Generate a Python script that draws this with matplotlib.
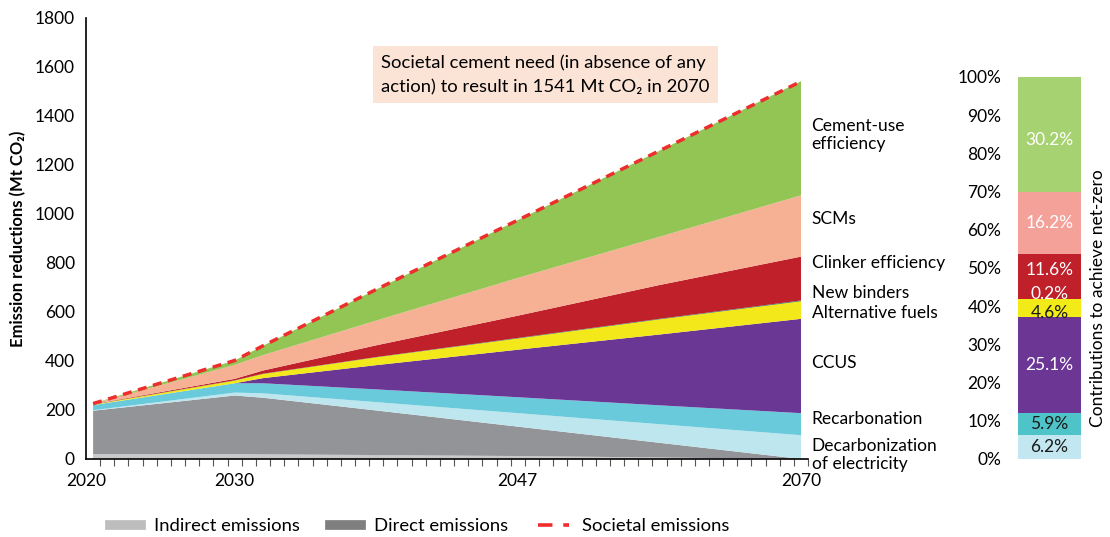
import numpy as np
import matplotlib.pyplot as plt
from matplotlib.lines import Line2D

plt.rcParams['font.family'] = ['Lato', 'DejaVu Sans']

# Emission reductions (Mt CO2), one value per year and layer
years = [2020, 2030, 2032, 2040, 2050, 2060, 2070]
indirect = [20, 20, 19, 16, 12, 6, 0]
direct = [177, 239, 231, 182, 120, 60, 0]
decarb_elec = [2, 12, 18, 34, 55, 76, 97]
recarbonation = [21, 38, 41, 52, 65, 77, 90]
ccus = [0, 0, 21, 99, 194, 289, 385]
alt_fuels = [2, 11, 17, 32, 46, 62, 72]
new_binders = [0.5, 1, 1, 1, 2, 2, 3]
clinker_eff = [1, 6, 13, 48, 91, 138, 179]
scms = [2, 57, 63, 101, 154, 197, 250]
cement_use = [1, 18, 38, 127, 236, 351, 466]
societal = [226, 402, 462, 692, 975, 1258, 1541]

# Contributions to net-zero (%), bottom to top
bar_labels = ['Decarbonization of electricity', 'Recarbonation', 'CCUS',
              'Alternative fuels', 'New binders', 'Clinker efficiency',
              'SCMs', 'Cement-use efficiency']
bar_values = [6.2, 5.9, 25.1, 4.6, 0.2, 11.6, 16.2, 30.2]

area_colors = ['#c9c9cb', '#929497', '#bee6ef', '#69cadc', '#6b3795',
               '#f2e81a', '#1b6f66', '#c0202a', '#f6b195', '#92c553']
bar_colors = ['#c3e7f0', '#4ec3c8', '#6b3694', '#f3eb17', '#156e62',
              '#c0202a', '#f4a19a', '#a7d271']
bar_text_colors = ['#1a1a1a', '#1a1a1a', 'white', '#1a1a1a', 'white',
                   'white', 'white', 'white']
bar_text_shift = [0, 0, 0, -1.2, 1.3, 1.7, 0, -1.4]

fs = 12.5
fig = plt.figure(figsize=(11.1, 5.37), dpi=100)
ax = fig.add_axes([0.0775, 0.1453, 0.6505, 0.8212])

ax.stackplot(years, indirect, direct, decarb_elec, recarbonation, ccus,
             alt_fuels, new_binders, clinker_eff, scms, cement_use,
             colors=area_colors, linewidth=0)
line, = ax.plot(years, societal, color='#ee2d2d', lw=2.5)
line.set_dashes((2.6, 1.9))

ax.set_xlim(2019.5, 2070.5)
ax.set_ylim(0, 1800)
ax.set_yticks(np.arange(0, 1801, 200))
ax.tick_params(axis='y', length=0, pad=8, labelsize=fs)
ax.set_xticks([2019.5, 2030, 2050, 2070])
ax.set_xticklabels(['2020', '2030', '2047', '2070'])
ax.set_xticks(np.arange(2019.5, 2071, 1), minor=True)
ax.tick_params(axis='x', which='major', length=0, pad=10, labelsize=fs)
ax.tick_params(axis='x', which='minor', length=5, width=0.8,
               color='#555555', direction='out')
for s in ['top', 'right']:
    ax.spines[s].set_visible(False)
for s in ['left', 'bottom']:
    ax.spines[s].set_linewidth(1.2)
ax.set_ylabel('Emission reductions (Mt CO\u2082)', fontsize=12,
              fontweight='bold', labelpad=6)

# Layer names on the right of the area chart
side_labels = [('Cement-use\nefficiency', 1323), ('SCMs', 981),
               ('Clinker efficiency', 801), ('New binders', 678),
               ('Alternative fuels', 597), ('CCUS', 392),
               ('Recarbonation', 163), ('Decarbonization\nof electricity', 16)]
for txt, yv in side_labels:
    ax.text(2070.75, yv, txt, fontsize=fs, va='center', ha='left',
            linespacing=1.15, clip_on=False)

ax.text(2040.35, 1568, 'Societal cement need (in absence of any\n'
        'action) to result in 1541 Mt CO\u2082 in 2070',
        fontsize=13.3, va='center', ha='left', linespacing=1.6,
        bbox=dict(facecolor='#fbe3d6', edgecolor='none', pad=6))

handles = [Line2D([], [], color='#bdbdbd', lw=7),
           Line2D([], [], color='#7f7f7f', lw=7),
           Line2D([], [], color='#ee2d2d', lw=2.6, dashes=(4, 3))]
fig.legend(handles, ['Indirect emissions', 'Direct emissions',
                     'Societal emissions'],
           loc='center', bbox_to_anchor=(0.378, 0.02), ncol=3,
           frameon=False, fontsize=13.3, handlelength=1.7,
           columnspacing=1.6, handletextpad=0.7)

# Stacked contribution bar
bx = fig.add_axes([0.9171, 0.1453, 0.0568, 0.7114])
bottom = 0
for val, col, tcol, dy in zip(bar_values, bar_colors, bar_text_colors,
                              bar_text_shift):
    bx.bar(0, val, bottom=bottom, width=1, color=col, linewidth=0)
    bx.text(0, bottom + val / 2 + dy, f'{val:.1f}%', ha='center',
            va='center', color=tcol, fontsize=fs)
    bottom += val
bx.set_xlim(-0.5, 0.5)
bx.set_ylim(0, 100)
bx.set_yticks(np.arange(0, 101, 10))
bx.set_yticklabels([f'{v}%' for v in range(0, 101, 10)])
bx.set_xticks([])
bx.tick_params(axis='y', length=0, pad=12, labelsize=fs)
for s in bx.spines.values():
    s.set_visible(False)
fig.text(0.989, 0.445, 'Contributions to achieve net-zero', rotation=90,
         ha='center', va='center', fontsize=fs)

fig.savefig('out.png', dpi=100)
